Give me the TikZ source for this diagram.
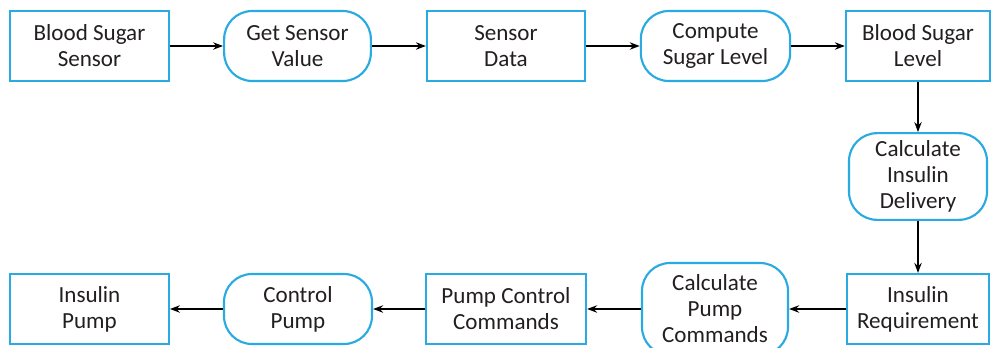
\documentclass[tikz,border=0pt]{standalone}
\usepackage{fontspec}
\setmainfont{Carlito}
\usepackage{tikz}
\usetikzlibrary{arrows.meta}
\definecolor{flowblue}{HTML}{29ABE2}
\definecolor{flowtext}{HTML}{231F20}
\newcommand{\RowA}{46}
\newcommand{\RowB}{176.5}
\newcommand{\RowC}{309}
\newcommand{\ColR}{918}

\begin{document}
\begin{tikzpicture}[x=0.75pt,y=-0.75pt,
    databox/.style={draw=flowblue,line width=1.6pt,fill=white,minimum height=52.5pt,
      inner sep=0pt,align=center,text=flowtext,font=\fontsize{17.3}{19.5}\selectfont},
    procbox/.style={databox,rounded corners=21pt},
    flow/.style={-{Stealth[length=7.5pt,width=5.5pt]},line width=1.6pt,black}]
    \clip (0,0) rectangle (992,347); % fixes the page size

    % top row, left to right
    \path (89.5,\RowA) node (bss) [databox,minimum width=119pt] {Blood Sugar\\Sensor};
    \path (297.5,\RowA) node (gsv) [procbox,minimum width=110pt] {Get Sensor\\Value};
    \path (506,\RowA) node (sd) [databox,minimum width=118.5pt] {Sensor\\Data};
    \path (715.5,\RowA) node (csl) [procbox,minimum width=112pt] {Compute\\Sugar Level};
    \path (\ColR,\RowA) node (bsl) [databox,minimum width=108pt] {Blood Sugar\\Level};

    % right column
    \path (\ColR,\RowB) node (cid) [procbox,minimum width=103.5pt,minimum height=65pt] {Calculate\\Insulin\\Delivery};

    % bottom row, right to left
    \path (\ColR,\RowC) node (ir) [databox,minimum width=106pt] {Insulin\\Requirement};
    \path (715,\RowC) node (cpc) [procbox,minimum width=109.5pt,minimum height=69pt] {Calculate\\Pump\\Commands};
    \path (506,\RowC) node (pcc) [databox,minimum width=120pt] {Pump Control\\Commands};
    \path (298,\RowC) node (cp) [procbox,minimum width=111pt] {Control\\Pump};
    \path (89.5,\RowC) node (ip) [databox,minimum width=119pt] {Insulin\\Pump};

    % connectors
    \draw [flow] (bss.east) -- (gsv.west);
    \draw [flow] (gsv.east) -- (sd.west);
    \draw [flow] (sd.east) -- (csl.west);
    \draw [flow] (csl.east) -- (bsl.west);
    \draw [flow] (bsl.south) -- (cid.north);
    \draw [flow] (cid.south) -- (ir.north);
    \draw [flow] (ir.west) -- (cpc.east);
    \draw [flow] (cpc.west) -- (pcc.east);
    \draw [flow] (pcc.west) -- (cp.east);
    \draw [flow] (cp.west) -- (ip.east);

\end{tikzpicture}
\end{document}
